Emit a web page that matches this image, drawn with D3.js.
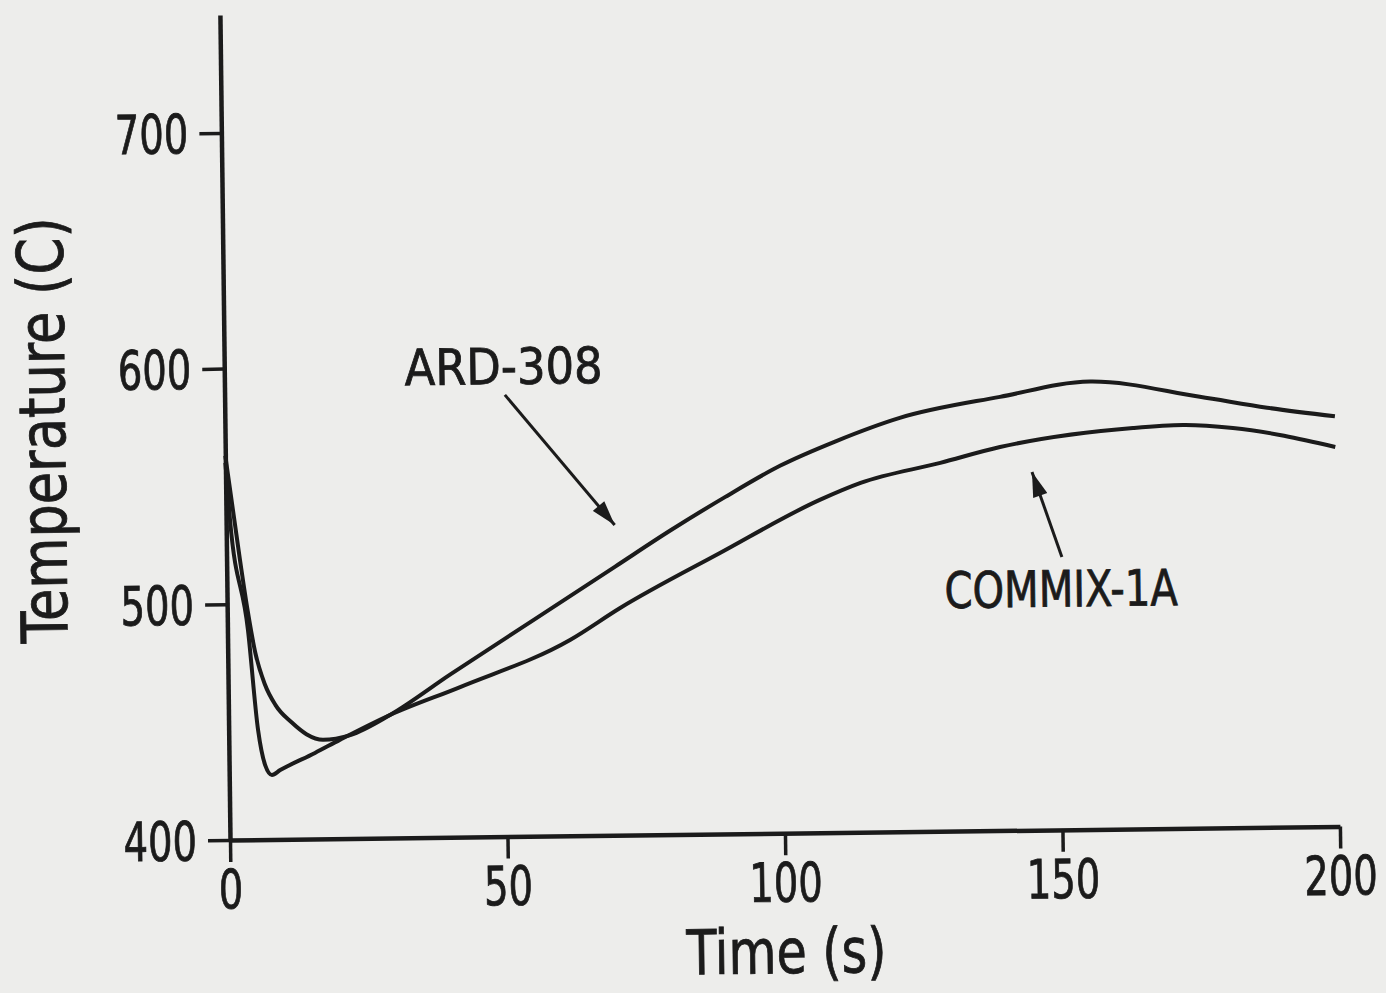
<!DOCTYPE html>
<html>
<head>
<meta charset="utf-8">
<script src="https://cdn.jsdelivr.net/npm/d3@7"></script>
<style>
  body { margin: 0; background: #ededeb; }
  svg { display: block; }
  text { font-family: "Liberation Sans Narrow", "DejaVu Sans Condensed", sans-serif; fill: #1b1b1b; stroke: #1b1b1b; stroke-width: 0.8px; }
</style>
</head>
<body>
<div id="chart"></div>
<script>
// data
const xTicks = [0, 50, 100, 150, 200];
const yTicks = [400, 500, 600, 700];

// ARD-308 (smooth dip, upper curve later on)
const ardTime = [0, 2.4, 3.7, 5, 6.6, 8.5, 11.4, 14, 17, 21.9, 29.1, 40, 50, 60, 70, 80, 90, 100, 110, 121.6, 139.7, 156, 175.7, 187.8, 200];
const ardTemp = [563, 519, 497, 479, 466, 457, 449.5, 444.5, 442, 443.9, 452.2, 469, 484, 499, 514, 529, 543, 556, 566, 575.6, 584, 590, 583, 578, 574];

// COMMIX-1A (sharp dip, lower curve later on)
const comTime = [0, 0.7, 3.7, 5.3, 6.5, 7.7, 9.2, 15.5, 20, 29.1, 41.8, 61.7, 70.8, 88.9, 107, 114.4, 128.8, 139.6, 163.6, 172.6, 181.6, 200];
const comTemp = [560, 536, 489, 446.5, 431.6, 427.4, 429.4, 436.5, 441.9, 452.2, 463.7, 483.1, 496.4, 519.2, 541.2, 548.2, 556.3, 562.7, 570.1, 571.1, 569.6, 561];

const labels = [
  { text: "ARD-308", len: 198, t: 32.5, T: 592, arrowFrom: [50.5, 587.4], arrowTo: [70, 531.6] },
  { text: "COMMIX-1A", len: 233, t: 129.3, T: 494.7, arrowFrom: [150.5, 515.7], arrowTo: [145.3, 552] }
];

const width = 1386, height = 993;

const svg = d3.select("#chart").append("svg")
  .attr("width", width)
  .attr("height", height);

svg.append("rect").attr("width", width).attr("height", height).attr("fill", "#ededeb");

// the scan is tilted slightly, so rotate the whole plot round the origin
const g = svg.append("g")
  .attr("transform", "rotate(-0.7, 230, 840)");

const x = d3.scaleLinear().domain([0, 200]).range([230, 1340]);
const y = d3.scaleLinear().domain([400, 750]).range([840, 15]);

const ink = "#1b1b1b";

// x axis
const xAxis = g.append("g")
  .attr("transform", "translate(0," + y(400) + ")")
  .call(d3.axisBottom(x).tickValues(xTicks).tickSize(22).tickSizeOuter(0).tickPadding(8));

// y axis
const yAxis = g.append("g")
  .attr("transform", "translate(" + x(0) + ",0)")
  .call(d3.axisLeft(y).tickValues(yTicks).tickSize(22).tickSizeOuter(0).tickPadding(11));

[xAxis, yAxis].forEach(ax => {
  ax.select(".domain").attr("stroke", ink).attr("stroke-width", 4.5);
  ax.selectAll(".tick line").attr("stroke", ink).attr("stroke-width", 3.5);
  ax.selectAll(".tick text")
    .attr("fill", ink)
    .attr("textLength", d => String(d).length * 24.5)
    .attr("lengthAdjust", "spacingAndGlyphs")
    .style("font-size", "54px");
});
yAxis.selectAll(".tick text").attr("dy", "0.36em");

// axis titles
g.append("text")
  .attr("x", x(100))
  .attr("y", 980)
  .attr("text-anchor", "middle")
  .attr("textLength", 200)
  .attr("lengthAdjust", "spacingAndGlyphs")
  .style("font-size", "62px")
  .text("Time (s)");

g.append("text")
  .attr("transform", "translate(70,428) rotate(-90)")
  .attr("text-anchor", "middle")
  .attr("textLength", 426)
  .attr("lengthAdjust", "spacingAndGlyphs")
  .style("font-size", "64px")
  .text("Temperature (C)");

// curves
const line = d3.line()
  .x(d => x(d[0]))
  .y(d => y(d[1]))
  .curve(d3.curveMonotoneX);

const series = [
  d3.zip(ardTime, ardTemp),
  d3.zip(comTime, comTemp)
];

g.selectAll("path.curve")
  .data(series)
  .enter()
  .append("path")
  .attr("class", "curve")
  .attr("d", line)
  .attr("fill", "none")
  .attr("stroke", ink)
  .attr("stroke-width", 4)
  .attr("stroke-linejoin", "round");

// arrowhead
svg.append("defs").append("marker")
  .attr("id", "head")
  .attr("viewBox", "0 0 10 6")
  .attr("refX", 10)
  .attr("refY", 3)
  .attr("markerWidth", 9)
  .attr("markerHeight", 5)
  .attr("orient", "auto")
  .append("path")
  .attr("d", "M0,0 L10,3 L0,6 Z")
  .attr("fill", ink);

// annotations
labels.forEach(l => {
  g.append("text")
    .attr("x", x(l.t))
    .attr("y", y(l.T))
    .attr("textLength", l.len)
    .attr("lengthAdjust", "spacingAndGlyphs")
    .style("font-size", "50px")
    .text(l.text);

  g.append("line")
    .attr("x1", x(l.arrowFrom[0]))
    .attr("y1", y(l.arrowFrom[1]))
    .attr("x2", x(l.arrowTo[0]))
    .attr("y2", y(l.arrowTo[1]))
    .attr("stroke", ink)
    .attr("stroke-width", 3)
    .attr("marker-end", "url(#head)");
});
</script>
</body>
</html>
